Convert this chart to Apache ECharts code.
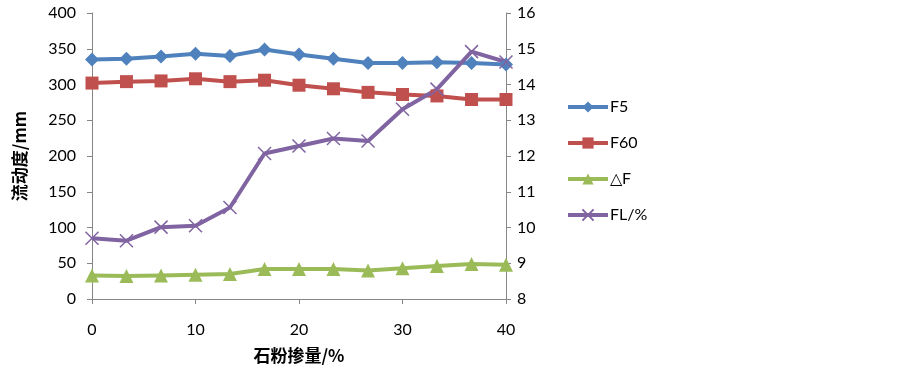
<!DOCTYPE html>
<html>
<head>
<meta charset="utf-8">
<script src="https://cdn.jsdelivr.net/npm/echarts@6/dist/echarts.min.js"></script>
<style>html,body{margin:0;padding:0;background:#fff}#c{width:903px;height:366px}</style>
</head>
<body>
<div id="c"></div>
<script>
const xValues = [0, 3.33, 6.67, 10, 13.33, 16.67, 20, 23.33, 26.67, 30, 33.33, 36.67, 40];
const f5 = [335, 336, 339, 343, 340, 349, 342, 336, 330, 330, 331, 330, 328];
const f60 = [302, 304, 305, 308, 304, 306, 299, 294, 289, 286, 284, 279, 279];
const dF = [33, 32, 33, 34, 35, 42, 42, 42, 40, 43, 46, 49, 48];
const fl = [9.70, 9.63, 10.01, 10.05, 10.56, 12.07, 12.28, 12.49, 12.42, 13.31, 13.87, 14.92, 14.63];
const names = ['F5', 'F60', '△F', 'FL/%'];

const pair = arr => arr.map((v, i) => [xValues[i], v]);
const font = 'Lato, "Noto Sans", sans-serif';
const axisGray = '#868686';
const xSym = 'path://M0,0L10,10M10,0L0,10';

const chart = echarts.init(document.getElementById('c'), null, {renderer: 'canvas'});
chart.setOption({
  animation: false,
  grid: {left: 92, right: 397, top: 13, bottom: 67, outerBoundsMode: 'none', containLabel: false},
  legend: {
    orient: 'vertical', left: 561, top: 94, itemGap: 20, itemWidth: 40, itemHeight: 14,
    lineStyle: {width: 4},
    textStyle: {fontFamily: font, fontSize: 16, color: '#000', padding: [0, 0, 0, -3]},
    data: names
  },
  xAxis: {
    type: 'value', min: 0, max: 40, interval: 10,
    name: '石粉掺量/%', nameLocation: 'middle', nameGap: 48,
    nameTextStyle: {fontFamily: '"Noto Sans CJK SC"', fontSize: 17, fontWeight: 'bold', color: '#000'},
    axisLine: {show: true, lineStyle: {color: axisGray, width: 1}},
    axisTick: {show: true, length: 5, lineStyle: {color: axisGray}},
    axisLabel: {fontFamily: font, fontSize: 16, color: '#000', margin: 23},
    splitLine: {show: false}
  },
  yAxis: [{
    type: 'value', min: 0, max: 400, interval: 50, position: 'left',
    name: '流动度/mm', nameLocation: 'middle', nameGap: 64, nameRotate: 90,
    nameTextStyle: {fontFamily: '"Noto Sans CJK SC"', fontSize: 17, fontWeight: 'bold', color: '#000'},
    axisLine: {show: true, lineStyle: {color: axisGray, width: 1}},
    axisTick: {show: true, length: 5, lineStyle: {color: axisGray}},
    axisLabel: {fontFamily: font, fontSize: 16, color: '#000', margin: 16},
    splitLine: {show: false}
  }, {
    type: 'value', min: 8, max: 16, interval: 1, position: 'right',
    axisLine: {show: true, lineStyle: {color: axisGray, width: 1}},
    axisTick: {show: true, length: 5, lineStyle: {color: axisGray}},
    axisLabel: {fontFamily: font, fontSize: 16, color: '#000', margin: 11},
    splitLine: {show: false}
  }],
  series: [{
    name: names[0], type: 'line', yAxisIndex: 0, data: pair(f5),
    symbol: 'diamond', symbolSize: 14,
    lineStyle: {color: '#4F81BD', width: 4}, itemStyle: {color: '#4F81BD'}
  }, {
    name: names[1], type: 'line', yAxisIndex: 0, data: pair(f60),
    symbol: 'rect', symbolSize: 13,
    lineStyle: {color: '#C0504D', width: 4}, itemStyle: {color: '#C0504D'}
  }, {
    name: names[2], type: 'line', yAxisIndex: 0, data: pair(dF),
    symbol: 'triangle', symbolSize: 14,
    lineStyle: {color: '#9BBB59', width: 4}, itemStyle: {color: '#9BBB59'}
  }, {
    name: names[3], type: 'line', yAxisIndex: 1, data: pair(fl),
    symbol: xSym, symbolSize: 13, z: 3,
    lineStyle: {color: '#8064A2', width: 4},
    itemStyle: {color: 'rgba(0,0,0,0)', borderColor: '#8064A2', borderWidth: 1.5}
  }]
});
</script>
</body>
</html>
